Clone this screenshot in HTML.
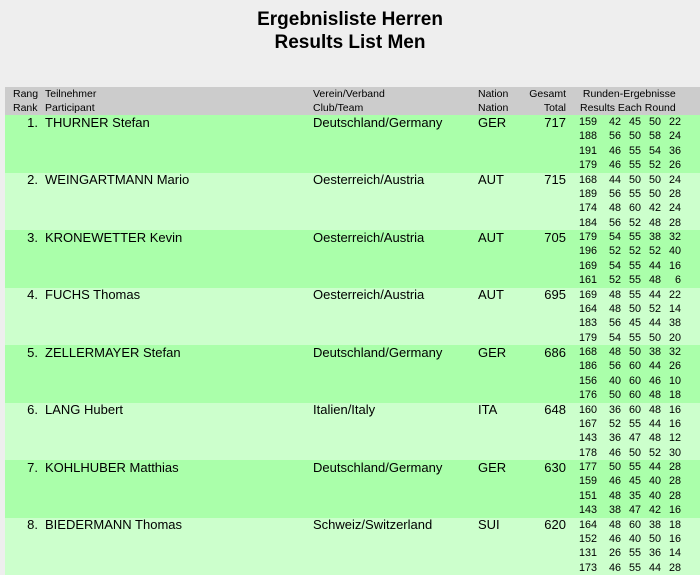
<!DOCTYPE html>
<html><head><meta charset="utf-8">
<style>
html,body{margin:0;padding:0;}
body{width:700px;height:573px;background:#eeeeee;position:relative;overflow:hidden;font-family:"Liberation Sans",Arial,sans-serif;color:#000;}
.title{position:absolute;left:0;width:700px;top:8px;text-align:center;font-weight:bold;font-size:19px;line-height:23px;}
.hdr{position:absolute;left:5px;width:695px;top:87px;height:28px;background:#cccccc;font-size:10.5px;line-height:14px;}
.hdr div{position:absolute;top:0;white-space:nowrap;}
.row{position:absolute;left:5px;width:695px;height:57.5px;}
.d{background:#aaffaa;}
.l{background:#ccffcc;}
.row .rk{position:absolute;left:0;width:33px;text-align:right;top:0.5px;font-size:13px;line-height:14.375px;}
.row .nm{position:absolute;left:40px;top:0.5px;font-size:13px;line-height:14.375px;white-space:nowrap;}
.row .cl{position:absolute;left:308px;top:0.5px;font-size:13px;line-height:14.375px;white-space:nowrap;}
.row .na{position:absolute;left:473px;top:0.5px;font-size:13px;line-height:14.375px;}
.row .to{position:absolute;left:0;width:561px;text-align:right;top:0.5px;font-size:13px;line-height:14.375px;}
.row .rd{position:absolute;left:570px;top:0;font-size:10.8px;line-height:14.375px;white-space:nowrap;}
.rd span{display:inline-block;text-align:right;width:20px;}
.rd span:first-child{width:22px;}
.rd span:nth-child(2){width:24px;}
</style></head><body>
<div class="title">Ergebnisliste Herren<br>Results List Men</div>
<div class="hdr">
<div style="left:8px">Rang<br>Rank</div>
<div style="left:40px">Teilnehmer<br>Participant</div>
<div style="left:308px">Verein/Verband<br>Club/Team</div>
<div style="left:473px">Nation<br>Nation</div>
<div style="left:0;width:561px;text-align:right">Gesamt<br>Total</div>
<div style="left:575px">&nbsp;Runden-Ergebnisse<br>Results Each Round</div>
</div>

<div class="row d" style="top:115px"><div class="rk">1.</div><div class="nm">THURNER Stefan</div><div class="cl">Deutschland/Germany</div><div class="na">GER</div><div class="to">717</div>
<div class="rd"><div><span>159</span><span>42</span><span>45</span><span>50</span><span>22</span></div><div><span>188</span><span>56</span><span>50</span><span>58</span><span>24</span></div><div><span>191</span><span>46</span><span>55</span><span>54</span><span>36</span></div><div><span>179</span><span>46</span><span>55</span><span>52</span><span>26</span></div></div></div>

<div class="row l" style="top:172.5px"><div class="rk">2.</div><div class="nm">WEINGARTMANN Mario</div><div class="cl">Oesterreich/Austria</div><div class="na">AUT</div><div class="to">715</div>
<div class="rd"><div><span>168</span><span>44</span><span>50</span><span>50</span><span>24</span></div><div><span>189</span><span>56</span><span>55</span><span>50</span><span>28</span></div><div><span>174</span><span>48</span><span>60</span><span>42</span><span>24</span></div><div><span>184</span><span>56</span><span>52</span><span>48</span><span>28</span></div></div></div>

<div class="row d" style="top:230px"><div class="rk">3.</div><div class="nm">KRONEWETTER Kevin</div><div class="cl">Oesterreich/Austria</div><div class="na">AUT</div><div class="to">705</div>
<div class="rd"><div><span>179</span><span>54</span><span>55</span><span>38</span><span>32</span></div><div><span>196</span><span>52</span><span>52</span><span>52</span><span>40</span></div><div><span>169</span><span>54</span><span>55</span><span>44</span><span>16</span></div><div><span>161</span><span>52</span><span>55</span><span>48</span><span>6</span></div></div></div>

<div class="row l" style="top:287.5px"><div class="rk">4.</div><div class="nm">FUCHS Thomas</div><div class="cl">Oesterreich/Austria</div><div class="na">AUT</div><div class="to">695</div>
<div class="rd"><div><span>169</span><span>48</span><span>55</span><span>44</span><span>22</span></div><div><span>164</span><span>48</span><span>50</span><span>52</span><span>14</span></div><div><span>183</span><span>56</span><span>45</span><span>44</span><span>38</span></div><div><span>179</span><span>54</span><span>55</span><span>50</span><span>20</span></div></div></div>

<div class="row d" style="top:345px"><div class="rk">5.</div><div class="nm">ZELLERMAYER Stefan</div><div class="cl">Deutschland/Germany</div><div class="na">GER</div><div class="to">686</div>
<div class="rd"><div><span>168</span><span>48</span><span>50</span><span>38</span><span>32</span></div><div><span>186</span><span>56</span><span>60</span><span>44</span><span>26</span></div><div><span>156</span><span>40</span><span>60</span><span>46</span><span>10</span></div><div><span>176</span><span>50</span><span>60</span><span>48</span><span>18</span></div></div></div>

<div class="row l" style="top:402.5px"><div class="rk">6.</div><div class="nm">LANG Hubert</div><div class="cl">Italien/Italy</div><div class="na">ITA</div><div class="to">648</div>
<div class="rd"><div><span>160</span><span>36</span><span>60</span><span>48</span><span>16</span></div><div><span>167</span><span>52</span><span>55</span><span>44</span><span>16</span></div><div><span>143</span><span>36</span><span>47</span><span>48</span><span>12</span></div><div><span>178</span><span>46</span><span>50</span><span>52</span><span>30</span></div></div></div>

<div class="row d" style="top:460px"><div class="rk">7.</div><div class="nm">KOHLHUBER Matthias</div><div class="cl">Deutschland/Germany</div><div class="na">GER</div><div class="to">630</div>
<div class="rd"><div><span>177</span><span>50</span><span>55</span><span>44</span><span>28</span></div><div><span>159</span><span>46</span><span>45</span><span>40</span><span>28</span></div><div><span>151</span><span>48</span><span>35</span><span>40</span><span>28</span></div><div><span>143</span><span>38</span><span>47</span><span>42</span><span>16</span></div></div></div>

<div class="row l" style="top:517.5px"><div class="rk">8.</div><div class="nm">BIEDERMANN Thomas</div><div class="cl">Schweiz/Switzerland</div><div class="na">SUI</div><div class="to">620</div>
<div class="rd"><div><span>164</span><span>48</span><span>60</span><span>38</span><span>18</span></div><div><span>152</span><span>46</span><span>40</span><span>50</span><span>16</span></div><div><span>131</span><span>26</span><span>55</span><span>36</span><span>14</span></div><div><span>173</span><span>46</span><span>55</span><span>44</span><span>28</span></div></div></div>

</body></html>
